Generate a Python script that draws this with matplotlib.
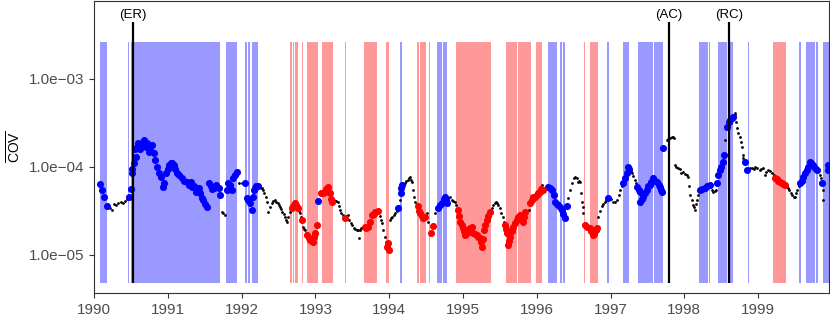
import matplotlib
matplotlib.use('Agg')
import matplotlib.pyplot as plt

plt.rcParams['font.family'] = ['Liberation Sans', 'DejaVu Sans']
plt.rcParams['mathtext.fontset'] = 'custom'
plt.rcParams['mathtext.rm'] = 'Liberation Sans'

# regime bands (start, end) in decimal years
blue_start = [1990.08, 1990.46, 1990.50, 1991.79, 1992.05, 1992.08, 1992.14, 1994.15, 1994.65, 1994.73,
              1996.15, 1996.31, 1996.36, 1996.95, 1997.17, 1997.37, 1997.59, 1998.20, 1998.33, 1998.45,
              1998.60, 1998.86, 1999.55, 1999.65, 1999.78, 1999.88]
blue_end = [1990.18, 1990.48, 1991.71, 1991.94, 1992.07, 1992.11, 1992.22, 1994.17, 1994.71, 1994.78,
            1996.27, 1996.34, 1996.38, 1996.98, 1997.25, 1997.575, 1997.71, 1998.32, 1998.35, 1998.58,
            1998.66, 1998.87, 1999.58, 1999.77, 1999.81, 1999.97]
red_start = [1992.66, 1992.70, 1992.72, 1992.82, 1992.89, 1993.09, 1993.40, 1993.66, 1993.96, 1994.38,
             1994.42, 1994.54, 1994.91, 1995.58, 1995.745, 1995.99, 1996.64, 1996.72, 1999.20]
red_end = [1992.68, 1992.71, 1992.76, 1992.83, 1993.04, 1993.24, 1993.41, 1993.83, 1994.00, 1994.40,
           1994.50, 1994.55, 1995.38, 1995.73, 1995.92, 1996.07, 1996.66, 1996.83, 1999.38]

# events
event_names = ['(ER)', '(AC)', '(RC)']
event_dates = [1990.53, 1997.79, 1998.60]

# points outside any regime (small black)
black_dates = [1990.22, 1990.24, 1990.27, 1990.30, 1990.33, 1990.36, 1990.39, 1990.42, 1990.45,
               1991.73, 1991.75, 1991.77, 1991.96, 1992.00, 1992.03,
               1992.24, 1992.26, 1992.275, 1992.29, 1992.31, 1992.325, 1992.34, 1992.36, 1992.38, 1992.41,
               1992.43, 1992.45, 1992.47, 1992.49, 1992.505, 1992.52, 1992.535, 1992.55, 1992.57, 1992.59,
               1992.60, 1992.615, 1992.635, 1992.66, 1992.775, 1992.79, 1992.80, 1992.83, 1992.845, 1992.86,
               1992.875, 1993.25, 1993.27, 1993.285, 1993.30, 1993.315, 1993.33, 1993.35, 1993.37, 1993.39,
               1993.42, 1993.44, 1993.46, 1993.48, 1993.50, 1993.52, 1993.54, 1993.56, 1993.58, 1993.585,
               1993.60, 1993.62, 1993.64, 1993.87, 1993.885, 1993.90, 1993.92, 1993.94, 1993.955,
               1994.01, 1994.025, 1994.04, 1994.06, 1994.08, 1994.10, 1994.135, 1994.15,
               1994.19, 1994.21, 1994.23, 1994.25, 1994.265, 1994.28, 1994.295, 1994.31, 1994.32, 1994.335,
               1994.35, 1994.37, 1994.51, 1994.53, 1994.62, 1994.80, 1994.82, 1994.85, 1994.87, 1994.89,
               1994.91, 1995.39, 1995.41, 1995.43, 1995.445, 1995.46, 1995.48, 1995.50, 1995.52, 1995.54,
               1995.555, 1995.89, 1996.07,
               1996.42, 1996.45, 1996.48, 1996.50, 1996.52, 1996.54, 1996.56, 1996.575, 1996.59, 1996.60,
               1996.61, 1996.62, 1996.63, 1996.83, 1996.855, 1996.88, 1996.90, 1996.92, 1996.94, 1997.00,
               1997.03, 1997.06, 1997.09, 1997.11, 1997.13, 1997.15, 1997.27, 1997.29, 1997.31, 1997.33,
               1997.345, 1997.76, 1997.78, 1997.80, 1997.83, 1997.85, 1997.86, 1997.87, 1997.89, 1997.91,
               1997.94, 1997.96, 1997.98, 1998.01, 1998.03, 1998.05, 1998.065, 1998.08, 1998.10, 1998.12,
               1998.13, 1998.14, 1998.155, 1998.17, 1998.19, 1998.37, 1998.39, 1998.41, 1998.43, 1998.55,
               1998.68, 1998.69, 1998.70, 1998.71, 1998.73, 1998.75, 1998.765, 1998.78, 1998.79, 1998.80,
               1998.89, 1998.92, 1998.94, 1998.96, 1998.99, 1999.02, 1999.04, 1999.07, 1999.09, 1999.11,
               1999.13, 1999.16, 1999.19, 1999.21, 1999.38, 1999.40, 1999.42, 1999.44, 1999.46, 1999.48,
               1999.50, 1999.515, 1999.53, 1999.55, 1999.84, 1999.85, 1999.875, 1999.88]
black_cov = [3.4e-5, 3.25e-5, 3.8e-5, 3.7e-5, 3.9e-5, 4.0e-5, 3.9e-5, 4.1e-5, 4.3e-5,
             3.1e-5, 3.0e-5, 2.85e-5, 6.6e-5, 6.6e-5, 6.4e-5,
             5.9e-5, 5.8e-5, 5.7e-5, 5.5e-5, 5.0e-5, 4.5e-5, 4.0e-5, 3.08e-5, 3.5e-5, 3.9e-5,
             4.1e-5, 4.2e-5, 4.0e-5, 3.9e-5, 3.7e-5, 3.5e-5, 3.3e-5, 3.08e-5, 2.9e-5, 2.7e-5,
             2.5e-5, 2.37e-5, 2.7e-5, 3.08e-5, 3.2e-5, 3.0e-5, 2.7e-5, 2.08e-5, 1.95e-5, 1.9e-5,
             1.8e-5, 4.2e-5, 4.1e-5, 4.1e-5, 4.0e-5, 3.6e-5, 3.25e-5, 3.0e-5, 2.85e-5, 2.7e-5,
             2.75e-5, 2.85e-5, 2.5e-5, 2.3e-5, 2.19e-5, 2.05e-5, 1.97e-5, 1.9e-5, 1.92e-5, 1.56e-5,
             1.92e-5, 2.0e-5, 2.05e-5, 2.8e-5, 2.5e-5, 2.31e-5, 1.92e-5, 1.6e-5, 1.4e-5,
             2.5e-5, 2.6e-5, 2.7e-5, 2.85e-5, 3.0e-5, 3.2e-5, 3.6e-5, 4.2e-5,
             6.3e-5, 6.6e-5, 6.9e-5, 7.1e-5, 7.4e-5, 7.7e-5, 7.2e-5, 6.75e-5, 5.5e-5, 4.6e-5,
             4.0e-5, 3.8e-5, 3.0e-5, 2.4e-5, 3.0e-5, 4.4e-5, 4.5e-5, 4.2e-5, 4.1e-5, 4.0e-5,
             3.7e-5, 3.4e-5, 3.7e-5, 3.9e-5, 4.0e-5, 3.9e-5, 3.7e-5, 3.4e-5, 3.0e-5, 2.7e-5,
             2.4e-5, 3.25e-5, 6.25e-5,
             4.45e-5, 5.5e-5, 6.6e-5, 7.4e-5, 7.7e-5, 7.5e-5, 6.75e-5, 7.0e-5, 6.75e-5, 5.1e-5,
             4.0e-5, 3.5e-5, 3.0e-5, 2.7e-5, 3.2e-5, 3.6e-5, 3.8e-5, 4.0e-5, 4.2e-5, 4.3e-5,
             4.0e-5, 4.0e-5, 4.2e-5, 4.8e-5, 5.5e-5, 6.0e-5, 9.0e-5, 8.55e-5, 7.8e-5, 7.1e-5,
             6.5e-5, 2.03e-4, 2.1e-4, 2.15e-4, 2.19e-4, 2.2e-4, 2.14e-4, 1.05e-4, 1.0e-4, 9.7e-5,
             9.5e-5, 8.5e-5, 8.8e-5, 8.3e-5, 8.0e-5, 7.7e-5, 6.0e-5, 4.8e-5, 4.2e-5, 3.7e-5,
             3.5e-5, 3.25e-5, 3.8e-5, 4.2e-5, 4.8e-5, 5.4e-5, 5.2e-5, 5.3e-5, 5.5e-5, 2.03e-4,
             3.9e-4, 4.11e-4, 3.2e-4, 2.77e-4, 2.4e-4, 2.19e-4, 1.9e-4, 1.69e-4, 1.37e-4, 1.25e-4,
             9.7e-5, 9.8e-5, 9.5e-5, 1.0e-4, 9.7e-5, 9.25e-5, 9.5e-5, 9.7e-5, 8.1e-5, 8.8e-5,
             9.25e-5, 9.0e-5, 8.55e-5, 8.0e-5, 6.0e-5, 5.8e-5, 5.4e-5, 5.0e-5, 4.8e-5, 4.5e-5,
             4.6e-5, 5.0e-5, 5.5e-5, 6.0e-5, 8.1e-5, 7.4e-5, 5.5e-5, 4.2e-5]

# points in the blue regime
blue_dates = [1990.08, 1990.11, 1990.14, 1990.18, 1990.47, 1990.50, 1990.51, 1990.52, 1990.54, 1990.55,
              1990.57, 1990.58, 1990.60, 1990.61, 1990.62, 1990.64, 1990.66, 1990.68, 1990.70, 1990.72,
              1990.745, 1990.76, 1990.79, 1990.81, 1990.83, 1990.85, 1990.88, 1990.91, 1990.935, 1990.95,
              1990.98, 1991.00, 1991.02, 1991.04, 1991.06, 1991.08, 1991.10, 1991.125, 1991.15, 1991.19,
              1991.22, 1991.26, 1991.29, 1991.31, 1991.33, 1991.35, 1991.38, 1991.40, 1991.42, 1991.44,
              1991.46, 1991.48, 1991.50, 1991.53, 1991.56, 1991.58, 1991.60, 1991.63, 1991.65, 1991.67,
              1991.69, 1991.71, 1991.80, 1991.82, 1991.845, 1991.87, 1991.88, 1991.91, 1991.94,
              1992.05, 1992.07, 1992.09, 1992.11, 1992.14, 1992.15, 1992.165, 1992.18, 1992.20, 1992.22,
              1993.035, 1994.12, 1994.16, 1994.165, 1994.17,
              1994.66, 1994.69, 1994.72, 1994.74, 1994.76, 1994.77, 1994.78,
              1996.15, 1996.18, 1996.21, 1996.23, 1996.25, 1996.27, 1996.29, 1996.31, 1996.34, 1996.36,
              1996.38, 1996.41, 1996.965,
              1997.17, 1997.20, 1997.22, 1997.24, 1997.25, 1997.36, 1997.38, 1997.40, 1997.405, 1997.42,
              1997.44, 1997.46, 1997.49, 1997.51, 1997.53, 1997.55, 1997.575, 1997.60, 1997.63, 1997.65,
              1997.67, 1997.69, 1997.70, 1997.71,
              1998.21, 1998.245, 1998.28, 1998.31, 1998.35, 1998.44, 1998.46, 1998.48, 1998.50, 1998.52,
              1998.54, 1998.58, 1998.60, 1998.62, 1998.64, 1998.66, 1998.82, 1998.85,
              1999.57, 1999.59, 1999.61, 1999.635, 1999.66, 1999.68, 1999.70, 1999.72, 1999.74, 1999.77,
              1999.80, 1999.86, 1999.94, 1999.95]
blue_cov = [6.4e-5, 5.5e-5, 4.5e-5, 3.6e-5, 4.6e-5, 5.6e-5, 8.5e-5, 9.5e-5, 1.11e-4, 1.6e-4,
            1.30e-4, 1.69e-4, 1.85e-4, 1.65e-4, 1.6e-4, 1.78e-4, 1.9e-4, 2.0e-4, 1.7e-4, 1.87e-4,
            1.48e-4, 1.65e-4, 1.78e-4, 1.44e-4, 1.2e-4, 1.0e-4, 8.5e-5, 7.7e-5, 5.9e-5, 6.5e-5,
            8.55e-5, 9.5e-5, 1.05e-4, 1.11e-4, 1.1e-4, 1.05e-4, 9.5e-5, 8.55e-5, 8.0e-5, 7.5e-5,
            7.0e-5, 6.75e-5, 6.3e-5, 6.8e-5, 5.9e-5, 6.0e-5, 5.2e-5, 5.5e-5, 5.8e-5, 5.0e-5,
            4.45e-5, 4.2e-5, 3.8e-5, 3.5e-5, 6.6e-5, 6.0e-5, 5.6e-5, 5.8e-5, 6.3e-5, 5.9e-5,
            5.7e-5, 4.8e-5, 5.5e-5, 6.6e-5, 6.2e-5, 5.5e-5, 7.5e-5, 8.0e-5, 8.8e-5,
            6.6e-5, 4.45e-5, 4.2e-5, 3.9e-5, 3.25e-5, 4.6e-5, 5.5e-5, 5.8e-5, 6.0e-5, 6.1e-5,
            4.1e-5, 3.4e-5, 5.1e-5, 5.8e-5, 6.25e-5,
            3.4e-5, 3.7e-5, 3.9e-5, 4.3e-5, 4.6e-5, 4.2e-5, 3.9e-5,
            5.9e-5, 5.7e-5, 5.5e-5, 4.8e-5, 4.0e-5, 3.8e-5, 3.7e-5, 3.5e-5, 3.25e-5, 2.9e-5,
            2.63e-5, 3.6e-5, 4.45e-5,
            6.6e-5, 7.5e-5, 8.55e-5, 1.0e-4, 9.5e-5, 5.9e-5, 5.5e-5, 5.2e-5, 4.0e-5, 4.3e-5,
            4.6e-5, 5.0e-5, 5.5e-5, 6.0e-5, 6.25e-5, 6.8e-5, 7.5e-5, 7.0e-5, 6.75e-5, 6.2e-5,
            5.9e-5, 5.5e-5, 5.2e-5, 1.64e-4,
            5.5e-5, 5.6e-5, 5.8e-5, 6.0e-5, 6.25e-5, 6.6e-5, 8.0e-5, 9.25e-5, 1.0e-4, 1.14e-4,
            1.37e-4, 2.85e-4, 3.2e-4, 3.42e-4, 3.6e-4, 3.70e-4, 1.14e-4, 9.25e-5,
            6.6e-5, 7.0e-5, 7.7e-5, 8.5e-5, 9.25e-5, 1.0e-4, 1.14e-4, 1.1e-4, 1.05e-4, 9.8e-5,
            9.25e-5, 6.6e-5, 9.25e-5, 1.05e-4]

# points in the red regime
red_dates = [1992.68, 1992.70, 1992.72, 1992.74, 1992.76, 1992.82, 1992.89, 1992.91, 1992.93, 1992.95,
             1992.97, 1992.985, 1993.00, 1993.02, 1993.08, 1993.105, 1993.13, 1993.15, 1993.17, 1993.20,
             1993.21, 1993.225, 1993.40, 1993.67, 1993.69, 1993.71, 1993.74, 1993.77, 1993.79, 1993.81,
             1993.85, 1993.97, 1993.98, 1994.00, 1994.39, 1994.405, 1994.42, 1994.44, 1994.46, 1994.48,
             1994.57, 1994.59, 1994.93, 1994.945, 1994.96, 1994.98, 1995.00, 1995.015, 1995.03, 1995.05,
             1995.07, 1995.095, 1995.12, 1995.14, 1995.165, 1995.19, 1995.21, 1995.23, 1995.245, 1995.26,
             1995.27, 1995.285, 1995.30, 1995.32, 1995.345, 1995.37, 1995.57, 1995.585, 1995.60, 1995.61,
             1995.625, 1995.64, 1995.66, 1995.68, 1995.705, 1995.73, 1995.75, 1995.77, 1995.79, 1995.81,
             1995.825, 1995.84, 1995.91, 1995.93, 1995.95, 1995.975, 1996.00, 1996.02, 1996.04, 1996.06,
             1996.08, 1996.65, 1996.685, 1996.72, 1996.74, 1996.76, 1996.78, 1996.80, 1996.82,
             1999.23, 1999.25, 1999.27, 1999.30, 1999.32, 1999.34, 1999.36]
red_cov = [3.4e-5, 3.6e-5, 3.9e-5, 3.7e-5, 3.4e-5, 2.5e-5, 1.69e-5, 1.55e-5, 1.48e-5, 1.45e-5,
           1.41e-5, 1.6e-5, 1.78e-5, 2.19e-5, 5.1e-5, 5.0e-5, 5.2e-5, 5.6e-5, 5.9e-5, 5.1e-5,
           4.3e-5, 4.0e-5, 2.63e-5, 2.08e-5, 2.05e-5, 2.08e-5, 2.4e-5, 2.85e-5, 2.95e-5, 3.08e-5,
           3.16e-5, 1.23e-5, 1.37e-5, 1.14e-5, 3.6e-5, 3.2e-5, 3.0e-5, 2.8e-5, 2.63e-5, 2.7e-5,
           1.78e-5, 2.14e-5, 3.25e-5, 2.8e-5, 2.37e-5, 2.2e-5, 2.03e-5, 1.85e-5, 1.69e-5, 1.8e-5,
           1.92e-5, 2.0e-5, 2.08e-5, 1.78e-5, 1.75e-5, 1.69e-5, 1.6e-5, 1.56e-5, 1.4e-5, 1.23e-5,
           1.5e-5, 1.92e-5, 2.2e-5, 2.5e-5, 2.8e-5, 3.08e-5, 2.19e-5, 1.95e-5, 1.78e-5, 1.30e-5,
           1.45e-5, 1.6e-5, 1.85e-5, 2.08e-5, 2.3e-5, 2.5e-5, 2.7e-5, 2.85e-5, 2.6e-5, 2.37e-5,
           2.7e-5, 3.08e-5, 3.9e-5, 4.2e-5, 4.6e-5, 4.6e-5, 4.8e-5, 5.0e-5, 5.2e-5, 5.6e-5,
           5.5e-5, 2.19e-5, 2.1e-5, 2.03e-5, 1.85e-5, 1.69e-5, 1.75e-5, 1.9e-5, 2.03e-5,
           7.5e-5, 7.3e-5, 7.0e-5, 6.75e-5, 6.6e-5, 6.4e-5, 6.25e-5]

band_lo, band_hi = 4.8e-6, 2.6e-3
line_hi = 4.4e-3

fig = plt.figure(figsize=(8.3, 3.16), dpi=100)
ax = fig.add_axes([0.1133, 0.0728, 0.8855, 0.9245])

for s, e in zip(blue_start, blue_end):
    ax.fill_between([s, e], band_lo, band_hi, color='#9999ff', lw=0)
for s, e in zip(red_start, red_end):
    ax.fill_between([s, e], band_lo, band_hi, color='#ff9999', lw=0)

ax.scatter(black_dates, black_cov, s=4, color='black', lw=0, zorder=3)
ax.scatter(blue_dates, blue_cov, s=26, color='#0000ff', lw=0, zorder=4)
ax.scatter(red_dates, red_cov, s=26, color='#ff0000', lw=0, zorder=4)

ax.vlines(event_dates, band_lo, line_hi, color='black', lw=1.6, zorder=5)
for name, d in zip(event_names, event_dates):
    ax.text(d, 4.6e-3, name, ha='center', va='bottom', fontsize=9.5)

ax.set_yscale('log')
ax.set_xlim(1990, 1999.96)
ax.set_ylim(3.7e-6, 7.7e-3)
ax.set_xticks(range(1990, 2000))
ax.set_xticklabels([str(y) for y in range(1990, 2000)])
ax.set_yticks([1e-5, 1e-4, 1e-3])
ax.set_yticklabels(['1.0e\u221205', '1.0e\u221204', '1.0e\u221203'])
ax.yaxis.set_minor_locator(matplotlib.ticker.NullLocator())
ax.tick_params(colors='#333333', labelcolor='#4d4d4d', labelsize=11, length=3.5, width=0.8)
ax.set_ylabel(r'$\overline{\mathrm{COV}}$', fontsize=10, labelpad=4)
for sp in ax.spines.values():
    sp.set_color('#333333')
    sp.set_linewidth(0.8)

fig.savefig('out.png', dpi=100)
